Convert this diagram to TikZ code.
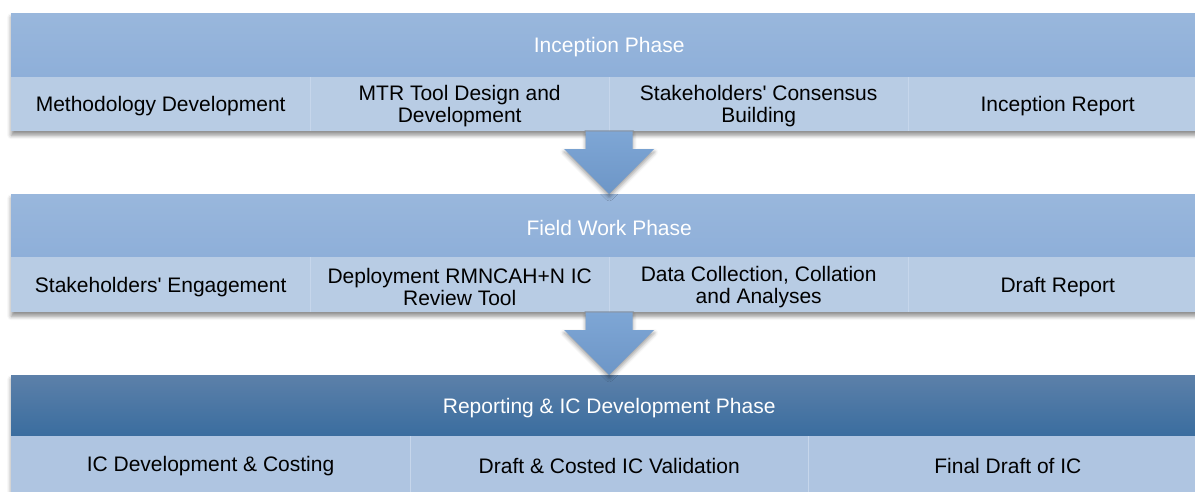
\documentclass[tikz,border=0pt]{standalone}
\usepackage{fontspec}
\setmainfont{Liberation Sans}
\usetikzlibrary{shadows.blur,calc}
\definecolor{hdrtop}{HTML}{99B7DC}
\definecolor{hdrbot}{HTML}{8EAFD9}
\definecolor{subfill}{HTML}{B8CCE4}
\definecolor{subsep}{HTML}{C6D6EB}
\definecolor{darktop}{HTML}{5C80A9}
\definecolor{darkbot}{HTML}{3A6D9F}
\definecolor{darksub}{HTML}{AFC5E1}
\definecolor{arrtop}{HTML}{7EA6D5}
\definecolor{arrbot}{HTML}{6D96C7}
\newcommand{\q}{\textquotesingle}
\begin{document}
\begin{tikzpicture}[x=1pt,y=-1pt,
  boxbg/.style={anchor=north west, inner sep=0pt, minimum width=1196pt, fill=white,
    blur shadow={shadow xshift=0pt, shadow yshift=-4pt, shadow blur radius=4pt, shadow opacity=45}},
  hdr/.style={anchor=north west, inner sep=0pt, minimum width=1196pt,
    top color=hdrtop, bottom color=hdrbot},
  darkhdr/.style={hdr, top color=darktop, bottom color=darkbot},
  cell/.style={anchor=north west, inner sep=0pt, fill=subfill},
  darkcell/.style={cell, fill=darksub},
  txt/.style={inner sep=0pt, align=center, text=black, font=\fontsize{21}{22}\selectfont},
  wtxt/.style={txt, text=white},
  sep/.style={draw=subsep, line width=1pt},
  bigarrow/.style={top color=arrtop, bottom color=arrbot,
    blur shadow={shadow xshift=0pt, shadow yshift=-3pt, shadow blur radius=4pt, shadow opacity=40}}
]
\useasboundingbox (0,0) rectangle (1195,491);
\clip (0,0) rectangle (1195,491);

% ---------- Box 1
\node[boxbg, minimum height=118pt] (box1) at (11,13) {};
\node[hdr, minimum height=64pt] (h1) at (11,13) {};
\node[cell, minimum width=299pt, minimum height=54pt] (a1) at (11,77) {};
\node[cell, minimum width=299pt, minimum height=54pt] (a2) at (310,77) {};
\node[cell, minimum width=299pt, minimum height=54pt] (a3) at (609,77) {};
\node[cell, minimum width=299pt, minimum height=54pt] (a4) at (908,77) {};
\draw[sep] (a1.north east) -- (a1.south east);
\draw[sep] (a2.north east) -- (a2.south east);
\draw[sep] (a3.north east) -- (a3.south east);
\node[wtxt] (h1t) at ([yshift=-2pt]h1.center) {Inception Phase};
\node[txt] (a1t) at ([yshift=-2pt]a1.center) {Methodology Development};
\node[txt] (a2t) at ([yshift=-2pt]a2.center) {MTR Tool Design and\\Development};
\node[txt] (a3t) at ([yshift=-2pt]a3.center) {Stakeholders\q{} Consensus\\Building};
\node[txt] (a4t) at ([yshift=-2pt]a4.center) {Inception Report};

% ---------- Box 2
\node[boxbg, minimum height=118pt] (box2) at (11,194) {};
\node[hdr, minimum height=63pt] (h2) at (11,194) {};
\node[cell, minimum width=299pt, minimum height=55pt] (b1) at (11,257) {};
\node[cell, minimum width=299pt, minimum height=55pt] (b2) at (310,257) {};
\node[cell, minimum width=299pt, minimum height=55pt] (b3) at (609,257) {};
\node[cell, minimum width=299pt, minimum height=55pt] (b4) at (908,257) {};
\draw[sep] (b1.north east) -- (b1.south east);
\draw[sep] (b2.north east) -- (b2.south east);
\draw[sep] (b3.north east) -- (b3.south east);
\node[wtxt] (h2t) at ([yshift=-2pt]h2.center) {Field Work Phase};
\node[txt] (b1t) at ([yshift=-2pt]b1.center) {Stakeholders\q{} Engagement};
\node[txt] (b2t) at ([yshift=-2pt]b2.center) {Deployment RMNCAH+N IC\\Review Tool};
\node[txt] (b3t) at ([yshift=-2pt]b3.center) {Data Collection, Collation\\and Analyses};
\node[txt] (b4t) at ([yshift=-2pt]b4.center) {Draft Report};

% ---------- Box 3
\node[boxbg, minimum height=120pt] (box3) at (11,375) {};
\node[darkhdr, minimum height=61pt] (h3) at (11,375) {};
\node[darkcell, minimum width=398.67pt, minimum height=58pt] (c1) at (11,436) {};
\node[darkcell, minimum width=398.67pt, minimum height=58pt] (c2) at (409.67,436) {};
\node[darkcell, minimum width=398.67pt, minimum height=58pt] (c3) at (808.33,436) {};
\draw[sep] (c1.north east) -- (c1.south east);
\draw[sep] (c2.north east) -- (c2.south east);
\node[wtxt] (h3t) at ([yshift=-2pt]h3.center) {Reporting \& IC Development Phase};
\node[txt] (c1t) at (c1.center |- 0,466) {IC Development \& Costing};
\node[txt] (c2t) at (c2.center |- 0,466) {Draft \& Costed IC Validation};
\node[txt] (c3t) at (c3.center |- 0,466) {Final Draft of IC};

% ---------- Arrows
\path[bigarrow] let \p1=(box1.south), \p2=(box2.north) in
  (\x1-23.5pt,\y1) -- (\x1+23.5pt,\y1) -- (\x1+23.5pt,\y2+45pt) -- (\x1+45pt,\y2+45pt)
  -- (\x1,\y2) -- (\x1-45pt,\y2+45pt) -- (\x1-23.5pt,\y2+45pt) -- cycle;
\path[bigarrow] let \p1=(box2.south), \p2=(box3.north) in
  (\x1-23.5pt,\y1) -- (\x1+23.5pt,\y1) -- (\x1+23.5pt,\y2+45pt) -- (\x1+45pt,\y2+45pt)
  -- (\x1,\y2) -- (\x1-45pt,\y2+45pt) -- (\x1-23.5pt,\y2+45pt) -- cycle;
\end{tikzpicture}
\end{document}
